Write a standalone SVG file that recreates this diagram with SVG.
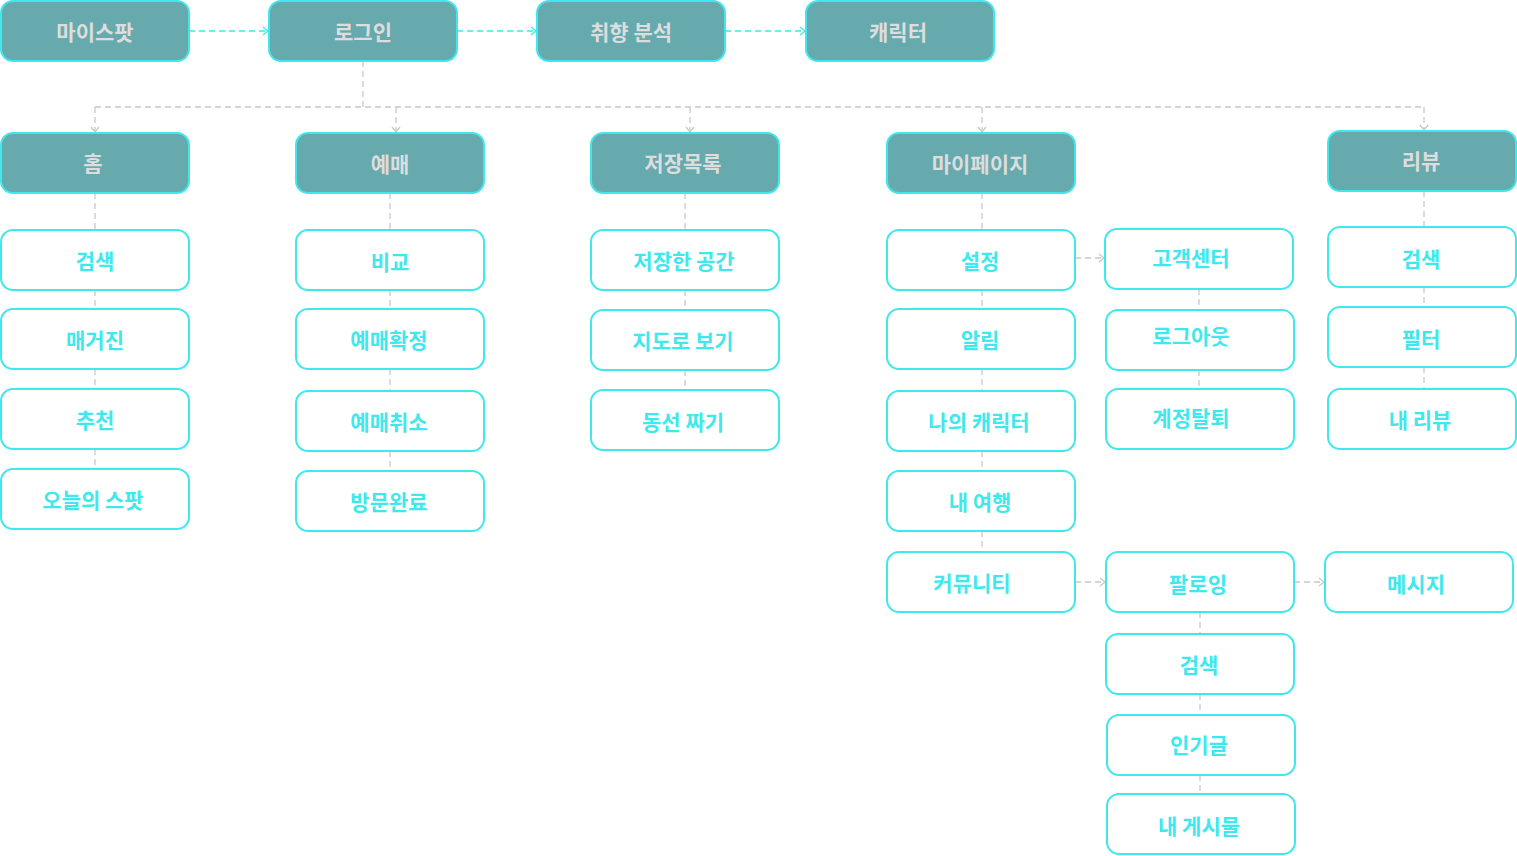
<svg xmlns="http://www.w3.org/2000/svg" width="1517" height="856" viewBox="0 0 1517 856">
<defs>
<marker id="ac" markerWidth="10" markerHeight="10" refX="8" refY="5" orient="auto" markerUnits="userSpaceOnUse"><path d="M3,1 L8,5 L3,9" fill="none" stroke="#3EE8EC" stroke-width="1.3"/></marker>
<marker id="ag" markerWidth="10" markerHeight="10" refX="8" refY="5" orient="auto" markerUnits="userSpaceOnUse"><path d="M3,1 L8,5 L3,9" fill="none" stroke="#C8C8C8" stroke-width="1.3"/></marker>
</defs>
<style>
.m rect{fill:#66AAAE;stroke:#3EE8EC;stroke-width:2}
.c rect{fill:#FFFFFF;stroke:#3EE8EC;stroke-width:2}
text{font-family:"Noto Sans CJK KR","Noto Sans",sans-serif;font-size:21px;font-weight:bold;text-anchor:middle;dominant-baseline:central}
.m text{fill:#DDDDDD}
.c text{fill:#3EE8EC}
.lc{fill:none;stroke:#3EE8EC;stroke-width:1.3;stroke-dasharray:6 4}
.lg{fill:none;stroke:#C8C8C8;stroke-width:1.3;stroke-dasharray:6 4}
</style>
<g id="connectors">
<path class="lc" d="M189,31 H268" marker-end="url(#ac)"/>
<path class="lc" d="M457,31 H536" marker-end="url(#ac)"/>
<path class="lc" d="M725,31 H805" marker-end="url(#ac)"/>
<path class="lg" d="M363,61 V107"/>
<path class="lg" d="M95,107 H1424"/>
<path class="lg" d="M95,107 V132" marker-end="url(#ag)"/>
<path class="lg" d="M396,107 V132" marker-end="url(#ag)"/>
<path class="lg" d="M690,107 V132" marker-end="url(#ag)"/>
<path class="lg" d="M982,107 V132" marker-end="url(#ag)"/>
<path class="lg" d="M1424,107 V130" marker-end="url(#ag)"/>
<path class="lg" d="M95,193 V230 M95,290 V309 M95,369 V389 M95,449 V469"/>
<path class="lg" d="M390,193 V230 M390,290 V309 M390,369 V391 M390,451 V471"/>
<path class="lg" d="M685,193 V230 M685,290 V310 M685,370 V390"/>
<path class="lg" d="M982,193 V230 M982,290 V309 M982,369 V391 M982,451 V471 M982,531 V552"/>
<path class="lg" d="M1199,289 V310 M1199,370 V389"/>
<path class="lg" d="M1424,191 V227 M1424,287 V307 M1424,367 V389"/>
<path class="lg" d="M1200,612 V634 M1200,694 V715 M1200,775 V794"/>
<path class="lg" d="M1075,258 H1104" marker-end="url(#ag)"/>
<path class="lg" d="M1075,582 H1105" marker-end="url(#ag)"/>
<path class="lg" d="M1294,582 H1324" marker-end="url(#ag)"/>
</g>
<g id="n-myspot" class="m"><rect x="1" y="1" width="188" height="60" rx="12"/><text x="95" y="31">마이스팟</text></g>
<g id="n-login" class="m"><rect x="269" y="1" width="188" height="60" rx="12"/><text x="363" y="31">로그인</text></g>
<g id="n-taste" class="m"><rect x="537" y="1" width="188" height="60" rx="12"/><text x="631" y="31">취향 분석</text></g>
<g id="n-character" class="m"><rect x="806" y="1" width="188" height="60" rx="12"/><text x="898" y="31">캐릭터</text></g>
<g id="n-home" class="m"><rect x="1" y="133" width="188" height="60" rx="12"/><text x="93" y="162">홈</text></g>
<g id="n-booking" class="m"><rect x="296" y="133" width="188" height="60" rx="12"/><text x="390" y="163">예매</text></g>
<g id="n-saved" class="m"><rect x="591" y="133" width="188" height="60" rx="12"/><text x="683" y="162">저장목록</text></g>
<g id="n-mypage" class="m"><rect x="887" y="133" width="188" height="60" rx="12"/><text x="980" y="163">마이페이지</text></g>
<g id="n-review" class="m"><rect x="1328" y="131" width="188" height="60" rx="12"/><text x="1421" y="160">리뷰</text></g>
<g id="n-home-search" class="c"><rect x="1" y="230" width="188" height="60" rx="12"/><text x="95" y="260">검색</text></g>
<g id="n-magazine" class="c"><rect x="1" y="309" width="188" height="60" rx="12"/><text x="95" y="339">매거진</text></g>
<g id="n-recommend" class="c"><rect x="1" y="389" width="188" height="60" rx="12"/><text x="95" y="419">추천</text></g>
<g id="n-today" class="c"><rect x="1" y="469" width="188" height="60" rx="12"/><text x="93" y="499">오늘의 스팟</text></g>
<g id="n-compare" class="c"><rect x="296" y="230" width="188" height="60" rx="12"/><text x="390" y="261">비교</text></g>
<g id="n-confirm" class="c"><rect x="296" y="309" width="188" height="60" rx="12"/><text x="389" y="339">예매확정</text></g>
<g id="n-cancel" class="c"><rect x="296" y="391" width="188" height="60" rx="12"/><text x="389" y="421">예매취소</text></g>
<g id="n-visited" class="c"><rect x="296" y="471" width="188" height="60" rx="12"/><text x="389" y="501">방문완료</text></g>
<g id="n-savedspace" class="c"><rect x="591" y="230" width="188" height="60" rx="12"/><text x="684" y="260">저장한 공간</text></g>
<g id="n-map" class="c"><rect x="591" y="310" width="188" height="60" rx="12"/><text x="683" y="340">지도로 보기</text></g>
<g id="n-route" class="c"><rect x="591" y="390" width="188" height="60" rx="12"/><text x="683" y="421">동선 짜기</text></g>
<g id="n-settings" class="c"><rect x="887" y="230" width="188" height="60" rx="12"/><text x="980" y="260">설정</text></g>
<g id="n-alarm" class="c"><rect x="887" y="309" width="188" height="60" rx="12"/><text x="980" y="339">알림</text></g>
<g id="n-mychar" class="c"><rect x="887" y="391" width="188" height="60" rx="12"/><text x="979" y="421">나의 캐릭터</text></g>
<g id="n-mytrip" class="c"><rect x="887" y="471" width="188" height="60" rx="12"/><text x="980" y="501">내 여행</text></g>
<g id="n-community" class="c"><rect x="887" y="552" width="188" height="60" rx="12"/><text x="972" y="582">커뮤니티</text></g>
<g id="n-support" class="c"><rect x="1105" y="229" width="188" height="60" rx="12"/><text x="1191" y="257">고객센터</text></g>
<g id="n-logout" class="c"><rect x="1106" y="310" width="188" height="60" rx="12"/><text x="1191" y="335">로그아웃</text></g>
<g id="n-withdraw" class="c"><rect x="1106" y="389" width="188" height="60" rx="12"/><text x="1191" y="417">계정탈퇴</text></g>
<g id="n-r-search" class="c"><rect x="1328" y="227" width="188" height="60" rx="12"/><text x="1421" y="258">검색</text></g>
<g id="n-filter" class="c"><rect x="1328" y="307" width="188" height="60" rx="12"/><text x="1421" y="338">필터</text></g>
<g id="n-myreview" class="c"><rect x="1328" y="389" width="188" height="60" rx="12"/><text x="1420" y="419">내 리뷰</text></g>
<g id="n-following" class="c"><rect x="1106" y="552" width="188" height="60" rx="12"/><text x="1198" y="583">팔로잉</text></g>
<g id="n-message" class="c"><rect x="1325" y="552" width="188" height="60" rx="12"/><text x="1416" y="583">메시지</text></g>
<g id="n-c-search" class="c"><rect x="1106" y="634" width="188" height="60" rx="12"/><text x="1199" y="664">검색</text></g>
<g id="n-popular" class="c"><rect x="1107" y="715" width="188" height="60" rx="12"/><text x="1199" y="744">인기글</text></g>
<g id="n-mypost" class="c"><rect x="1107" y="794" width="188" height="60" rx="12"/><text x="1199" y="825">내 게시물</text></g>
</svg>
